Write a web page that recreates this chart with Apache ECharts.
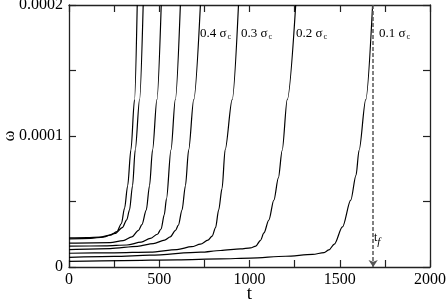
<!DOCTYPE html>
<html>
<head>
<meta charset="utf-8">
<script src="https://cdn.jsdelivr.net/npm/echarts@6/dist/echarts.min.js"></script>
<style>html,body{margin:0;padding:0;background:#fff}#c{width:447px;height:302px}</style>
</head>
<body>
<div id="c"></div>
<script>
// t ticks and omega ticks
const xTicks = [0, 500, 1000, 1500, 2000];
const yTicks = [0, 0.0001, 0.0002];
const tf = 1685;
const stressLabels = ['0.4', '0.3', '0.2', '0.1'];

// damage curves, [t, omega]
const curve1 = [[0,22.2e-6],[100,22.4e-6],[172,22.8e-6],[228,24.3e-6],[265,27e-6],[290,33e-6],[308,45e-6],[325,62e-6],[343,89.4e-6],[363,127.7e-6],[378,200e-6]];
const curve2 = [[0,21.5e-6],[120,21.9e-6],[189,22.8e-6],[256,25.6e-6],[295,30e-6],[320,36e-6],[335,43.4e-6],[352,62e-6],[367,89.4e-6],[391,127.7e-6],[411,200e-6]];
const curve3 = [[0,18.2e-6],[228,18.6e-6],[300,20.2e-6],[348,23e-6],[385,28e-6],[404,32.4e-6],[428,43.4e-6],[446,62e-6],[463,89.4e-6],[487,127.7e-6],[511,200e-6]];
const curve4 = [[0,15.9e-6],[200,16.1e-6],[321,16.8e-6],[400,19e-6],[450,21.8e-6],[490,25e-6],[510,29e-6],[528,40e-6],[540,52e-6],[565,89.4e-6],[589,127.7e-6],[617,200e-6]];
const curve5 = [[0,13.3e-6],[228,14.1e-6],[380,15.8e-6],[467,17.9e-6],[530,20.5e-6],[561,23e-6],[590,28e-6],[606,32e-6],[626,43.4e-6],[645,62e-6],[663,89.4e-6],[691,127.7e-6],[728,200e-6]];
const curve6 = [[0,10.5e-6],[250,10.8e-6],[450,11.4e-6],[598,13.3e-6],[680,15.5e-6],[728,17.4e-6],[770,20.5e-6],[793,23.5e-6],[812,30e-6],[829,43.4e-6],[848,60e-6],[865,89.4e-6],[904,127.7e-6],[939,200e-6]];
const curve7 = [[0,7.4e-6],[250,8.1e-6],[450,9e-6],[730,11.3e-6],[840,12.6e-6],[950,13.8e-6],[1006,14.6e-6],[1035,16e-6],[1061,20.4e-6],[1080,26e-6],[1107,35.8e-6],[1135,51e-6],[1160,68e-6],[1181,89e-6],[1209,127.7e-6],[1256,200e-6]];
const curve8 = [[0,4.3e-6],[300,4.9e-6],[600,5.5e-6],[839,6.2e-6],[1006,6.8e-6],[1200,8.2e-6],[1350,9.6e-6],[1413,11e-6],[1440,13e-6],[1470,17.5e-6],[1515,30.6e-6],[1561,51e-6],[1590,70e-6],[1607,89e-6],[1644,127.7e-6],[1682,200e-6]];
const curves = [curve1, curve2, curve3, curve4, curve5, curve6, curve7, curve8];

const serif = 'Liberation Serif';
const chart = echarts.init(document.getElementById('c'), null, {renderer: 'canvas'});

function xFmt(v) { return xTicks.indexOf(v) >= 0 ? String(v) : ''; }
function yFmt(v) {
  for (const t of yTicks) { if (Math.abs(v - t) < 1e-9) return t === 0 ? '0' : t.toFixed(4); }
  return '';
}
const frameLine = {show: true, onZero: false, lineStyle: {color: '#222', width: 1.3}};
const tick = {show: true, inside: true, length: 7, lineStyle: {color: '#222', width: 1.2}};

const xBase = {type: 'value', min: 0, max: 2000, interval: 250, splitLine: {show: false}, axisLine: frameLine, axisTick: tick};
const yBase = {type: 'value', min: 0, max: 0.0002, interval: 0.00005, splitLine: {show: false}, axisLine: frameLine, axisTick: tick};

const series = curves.map((c, i) => ({
  type: 'line', data: c, showSymbol: false, smooth: 0.3, smoothMonotone: 'x',
  lineStyle: {color: '#000', width: 1.2}, silent: true, z: 3,
  markLine: i === 7 ? {
    silent: true, symbol: ['none', 'arrow'], symbolSize: [7, 7],
    label: {show: false},
    lineStyle: {color: '#555', type: [4, 2], width: 1.5},
    data: [[{coord: [tf, 0.0002]}, {coord: [tf, 0]}]]
  } : undefined
}));

const labelPos = [200, 241, 296, 379];
const graphics = stressLabels.map((s, i) => ({
  type: 'text', left: labelPos[i], top: 27,
  style: {
    text: '{n|' + s + ' σ}{s|c}',
    rich: {
      n: {fontFamily: serif, fontSize: 13, fill: '#000'},
      s: {fontFamily: serif, fontSize: 8, fill: '#000', padding: [7, 0, 0, 1]}
    }
  }
}));
graphics.push({
  type: 'text', left: 374, top: 232,
  style: {
    text: '{t|t}{f|f}',
    rich: {
      t: {fontFamily: serif, fontSize: 12, fill: '#000'},
      f: {fontFamily: serif, fontSize: 11, fontStyle: 'italic', fill: '#000', padding: [9, 0, 0, 0]}
    }
  }
});

chart.setOption({
  animation: false,
  grid: {left: 69, right: 17, top: 5, bottom: 35, containLabel: false, outerBoundsMode: 'none'},
  xAxis: [
    Object.assign({}, xBase, {position: 'bottom',
      name: 't', nameLocation: 'middle', nameGap: 18, nameMoveOverlap: false,
      nameTextStyle: {fontFamily: serif, fontSize: 19, color: '#000'},
      axisLabel: {formatter: xFmt, fontFamily: serif, fontSize: 16, color: '#000', margin: 5}}),
    Object.assign({}, xBase, {position: 'top', axisLabel: {show: false}})
  ],
  yAxis: [
    Object.assign({}, yBase, {position: 'left',
      name: 'ω', nameLocation: 'middle', nameGap: 51, nameRotate: 90, nameMoveOverlap: false,
      nameTextStyle: {fontFamily: serif, fontSize: 16, color: '#000'},
      axisLabel: {formatter: yFmt, fontFamily: serif, fontSize: 16, color: '#000', margin: 6}}),
    Object.assign({}, yBase, {position: 'right', axisLabel: {show: false}})
  ],
  series: series,
  graphic: graphics
});
</script>
</body>
</html>
